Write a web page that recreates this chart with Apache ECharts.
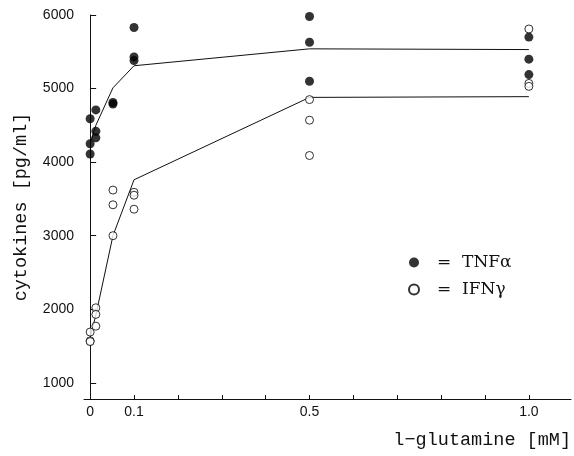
<!DOCTYPE html>
<html>
<head>
<meta charset="utf-8">
<script src="https://cdn.jsdelivr.net/npm/echarts@6/dist/echarts.min.js"></script>
<style>html,body{margin:0;padding:0;background:#fff}#c{width:574px;height:456px}</style>
</head>
<body>
<div id="c"></div>
<script>
// Data
const tnfX = [0, 0, 0, 0.013, 0.013, 0.013, 0.052, 0.052, 0.1, 0.1, 0.1, 0.5, 0.5, 0.5, 1.0, 1.0, 1.0];
const tnfY = [4590, 4250, 4110, 4710, 4420, 4330, 4790, 4810, 5830, 5430, 5380, 5980, 5630, 5100, 5700, 5400, 5190];
const ifnX = [0, 0, 0, 0.013, 0.013, 0.013, 0.052, 0.052, 0.052, 0.1, 0.1, 0.1, 0.5, 0.5, 0.5, 1.0, 1.0, 1.0];
const ifnY = [1690, 1570, 1560, 2020, 1930, 1770, 3620, 3420, 3000, 3590, 3550, 3360, 4850, 4570, 4090, 5810, 5070, 5030];
const lineX = [0, 0.013, 0.052, 0.1, 0.5, 1.0];
const tnfLineY = [4250, 4500, 5010, 5310, 5540, 5530];
const ifnLineY = [1620, 1920, 3000, 3760, 4880, 4890];
const xTickValues = [0, 0.1, 0.2, 0.3, 0.4, 0.5, 0.6, 0.7, 0.8, 0.9, 1.0, 1.1];
const xLabelValues = [0, 0.1, 0.5, 1.0];
const yTickValues = [1000, 2000, 3000, 4000, 5000, 6000];
const seriesNames = ['TNF\u03b1', 'IFN\u03b3'];

const zip = (xs, ys) => xs.map((x, i) => [x, ys[i]]);
const serif = '"DejaVu Serif", "Liberation Serif", serif';
const mono = '"Liberation Mono", "DejaVu Sans Mono", monospace';
const sans = '"Liberation Sans", Arial, sans-serif';

const chart = echarts.init(document.getElementById('c'), null, {renderer: 'canvas'});
chart.setOption({
  backgroundColor: '#fff',
  animation: false,
  grid: {left: 84, right: 2, top: 15, bottom: 57, containLabel: false},
  legend: {
    data: seriesNames,
    orient: 'vertical',
    left: 403,
    top: 249,
    itemWidth: 10,
    itemHeight: 10,
    itemGap: 10,
    icon: 'circle',
    formatter: n => '=  ' + n,
    textStyle: {fontFamily: serif, fontSize: 17, color: '#111', padding: [0, 0, 0, 13]}
  },
  xAxis: {
    type: 'value',
    min: -0.014,
    max: 1.096,
    name: 'l\u2212glutamine [mM]',
    nameLocation: 'end',
    nameGap: 0,
    nameTextStyle: {fontFamily: mono, fontSize: 18.5, color: '#111', align: 'right', verticalAlign: 'top', padding: [32, 0, 0, 0]},
    axisLine: {lineStyle: {color: '#111', width: 1}},
    axisTick: {inside: true, length: 4, customValues: xTickValues, lineStyle: {color: '#111'}},
    axisLabel: {customValues: xLabelValues, margin: 6, fontFamily: sans, fontSize: 14, color: '#111',
      formatter: v => v === 0 ? '0' : v.toFixed(1)},
    splitLine: {show: false}
  },
  yAxis: {
    type: 'value',
    min: 780,
    max: 6000,
    name: 'cytokines [pg/ml]',
    nameLocation: 'middle',
    nameGap: 53,
    nameTextStyle: {fontFamily: mono, fontSize: 18.5, color: '#111'},
    axisLine: {show: true, lineStyle: {color: '#111', width: 1}},
    axisTick: {show: true, inside: true, length: 6, customValues: yTickValues, lineStyle: {color: '#111'}},
    axisLabel: {customValues: yTickValues, margin: 10, fontFamily: sans, fontSize: 14, color: '#111',
      formatter: v => String(v)},
    splitLine: {show: false}
  },
  series: [
    {name: 'TNF\u03b1 fit', type: 'line', data: zip(lineX, tnfLineY), symbol: 'none', lineStyle: {color: '#111', width: 1}, z: 1},
    {name: 'IFN\u03b3 fit', type: 'line', data: zip(lineX, ifnLineY), symbol: 'none', lineStyle: {color: '#111', width: 1}, z: 1},
    {name: seriesNames[0], type: 'scatter', data: zip(tnfX, tnfY), symbol: 'circle', symbolSize: 9,
      itemStyle: {color: '#000', borderColor: '#000', borderWidth: 0}, z: 3},
    {name: seriesNames[1], type: 'scatter', data: zip(ifnX, ifnY), symbol: 'circle', symbolSize: 8,
      itemStyle: {color: '#fff', borderColor: '#000', borderWidth: 1}, z: 3}
  ]
});
</script>
</body>
</html>
